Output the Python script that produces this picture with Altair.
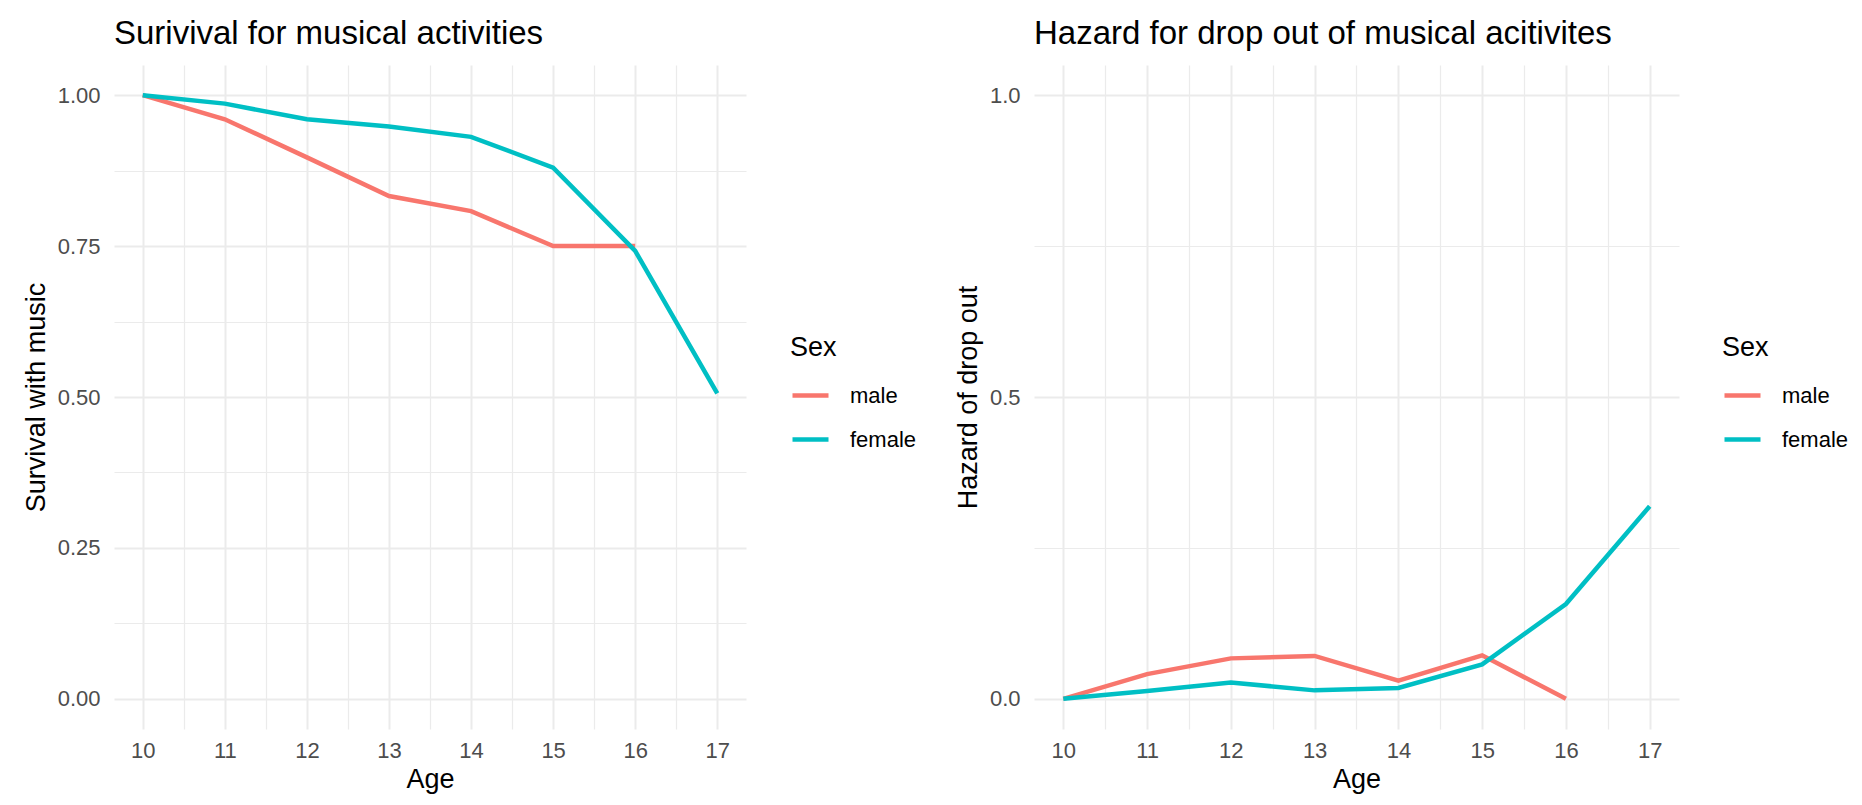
import altair as alt
import pandas as pd

# ---- data ----
ages_male = [10, 11, 12, 13, 14, 15, 16]
ages_female = [10, 11, 12, 13, 14, 15, 16, 17]
survival_male = [1.00, 0.960, 0.897, 0.833, 0.808, 0.750, 0.750]
survival_female = [1.00, 0.986, 0.960, 0.948, 0.931, 0.880, 0.742, 0.506]
hazard_male = [0.0, 0.041, 0.067, 0.071, 0.030, 0.072, 0.0]
hazard_female = [0.0, 0.013, 0.027, 0.014, 0.018, 0.057, 0.157, 0.319]
sex_levels = ["male", "female"]
sex_colors = ["#F8766D", "#00BFC4"]
x_breaks = [10 + 0.5 * i for i in range(15)]
y_breaks_surv = [0.125 * i for i in range(9)]
y_breaks_haz = [0.25 * i for i in range(5)]

surv_df = pd.DataFrame({
    "Age": ages_male + ages_female,
    "value": survival_male + survival_female,
    "Sex": ["male"] * len(ages_male) + ["female"] * len(ages_female),
})
haz_df = pd.DataFrame({
    "Age": ages_male + ages_female,
    "value": hazard_male + hazard_female,
    "Sex": ["male"] * len(ages_male) + ["female"] * len(ages_female),
})

FONT = "Liberation Sans"
GRID = "#EBEBEB"


def x_enc():
    return alt.X(
        "Age:Q",
        scale=alt.Scale(domain=[9.65, 17.35], nice=False, zero=False),
        axis=alt.Axis(
            values=x_breaks,
            labelExpr="datum.value % 1 == 0 ? format(datum.value, 'd') : ''",
            title="Age",
            grid=True,
            gridColor=GRID,
            gridWidth={"condition": {"test": "datum.value % 1 == 0", "value": 2}, "value": 1.2},
            ticks=False,
            domain=False,
            labelFontSize=22,
            labelColor="#4D4D4D",
            labelPadding=11,
            titleFontSize=27,
            titleFontWeight="normal",
            titleColor="#000000",
            titlePadding=5,
            labelFont=FONT,
            titleFont=FONT,
        ),
    )


def y_enc(title, breaks, major_step, fmt, title_x):
    return alt.Y(
        "value:Q",
        scale=alt.Scale(domain=[-0.05, 1.05], nice=False, zero=False),
        axis=alt.Axis(
            values=breaks,
            labelExpr=f"datum.value % {major_step} == 0 ? format(datum.value, '{fmt}') : ''",
            title=title,
            grid=True,
            gridColor=GRID,
            gridWidth={"condition": {"test": f"datum.value % {major_step} == 0", "value": 2}, "value": 1.2},
            ticks=False,
            domain=False,
            labelFontSize=22,
            labelColor="#4D4D4D",
            labelPadding=14,
            titleFontSize=27,
            titleFontWeight="normal",
            titleColor="#000000",
            titleX=title_x,
            titleY=332,
            titleAngle=270,
            titleAlign="center",
            titleBaseline="middle",
            labelFont=FONT,
            titleFont=FONT,
        ),
    )


def color_enc(lx):
    return alt.Color(
        "Sex:N",
        scale=alt.Scale(domain=sex_levels, range=sex_colors),
        sort=sex_levels,
        legend=alt.Legend(
            title="Sex",
            orient="none",
            legendX=lx,
            legendY=270,
            symbolType="stroke",
            symbolSize=1296,
            symbolStrokeWidth=4.5,
            labelFontSize=22,
            labelFont=FONT,
            titleFont=FONT,
            titleFontSize=27,
            titleFontWeight="normal",
            titleColor="#000000",
            labelColor="#000000",
            labelOffset=19,
            rowPadding=12,
            titlePadding=13,
        ),
    )


left = alt.Chart(surv_df).mark_line(strokeWidth=4.5, strokeCap="butt").encode(
    x=x_enc(),
    y=y_enc("Survival with music", y_breaks_surv, 0.25, ".2f", -78),
    color=color_enc(676),
    order="Age:Q",
).properties(
    width=632,
    height=664,
    title=alt.TitleParams(
        "Surivival for musical activities", anchor="start", frame="group",
        fontSize=33, fontWeight="normal", font=FONT, color="#000000",
        baseline="alphabetic", offset=-12,
    ),
)

right = alt.Chart(haz_df).mark_line(strokeWidth=4.5, strokeCap="butt").encode(
    x=x_enc(),
    y=y_enc("Hazard of drop out", y_breaks_haz, 0.5, ".1f", -66),
    color=color_enc(688),
    order="Age:Q",
).properties(
    width=645,
    height=664,
    title=alt.TitleParams(
        "Hazard for drop out of musical acitivites", anchor="start", frame="group",
        fontSize=33, fontWeight="normal", font=FONT, color="#000000",
        baseline="alphabetic", offset=-12,
    ),
)

chart = alt.hconcat(left, right, spacing=288, bounds="flush").resolve_scale(
    color="independent"
).resolve_legend(color="independent").properties(
    padding={"left": 14, "top": 10, "right": 5, "bottom": 5},
    background="#FFFFFF",
).configure_view(stroke=None)

chart.save("out.html", embed_options={"renderer": "svg", "actions": False})
